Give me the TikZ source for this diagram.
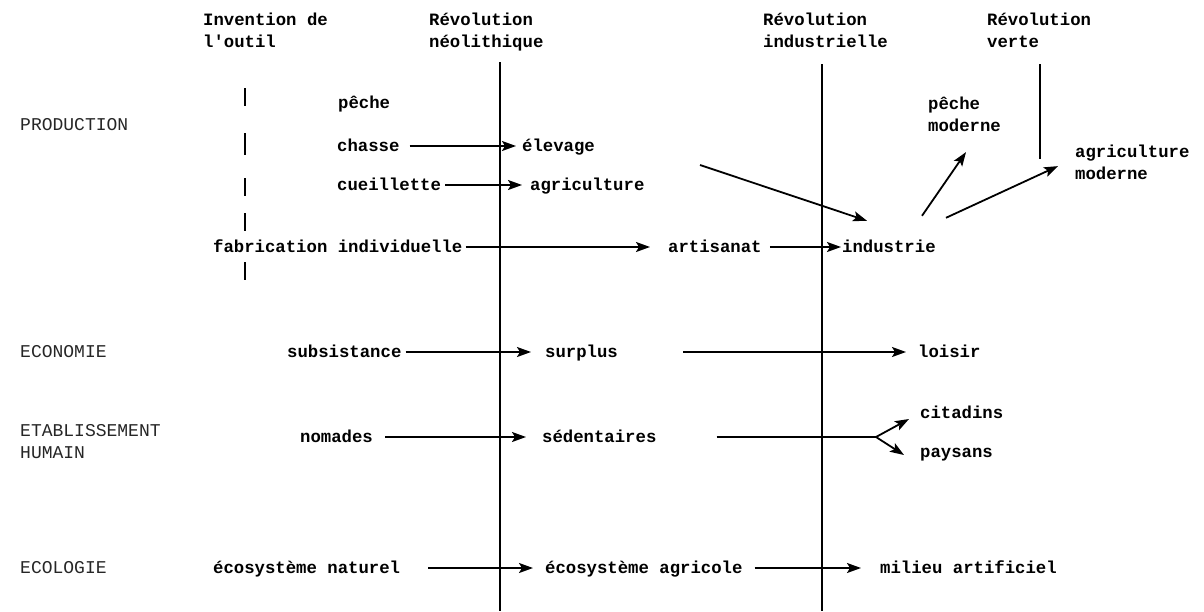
\documentclass[tikz,border=0pt]{standalone}
\usepackage{fontspec}
\setmonofont{Liberation Mono}
\usetikzlibrary{arrows.meta,calc}
\begin{document}
\begin{tikzpicture}[x=1pt,y=-1pt,
  lab/.style={font=\ttfamily\bfseries\fontsize{17.3}{22}\selectfont, anchor=base west, inner sep=0pt, text height=10pt, text depth=0pt},
  mlab/.style={font=\ttfamily\bfseries\fontsize{17.3}{22}\selectfont, anchor=north west, inner sep=0pt, align=left},
  head/.style={font=\ttfamily\bfseries\fontsize{17.3}{22}\selectfont, anchor=north west, inner sep=0pt, align=left},
  cat/.style={font=\ttfamily\fontsize{18}{22}\selectfont, text=black!85, anchor=base west, inner sep=0pt, align=left},
  arr/.style={line width=1.8pt, -{Stealth[length=14pt,width=10pt,inset=3pt]}},
  plain/.style={line width=1.8pt},
  era/.style={line width=1.2pt}]
\useasboundingbox (0,0) rectangle (1204,611);
% headers
\node[head] (hInv) at (203,13) {Invention de\\l'outil};
\node[head] (hNeo) at (429,13) {Révolution\\néolithique};
\node[head] (hInd) at (763,13) {Révolution\\industrielle};
\node[head] (hVer) at (987,13) {Révolution\\verte};
% era lines
\draw[era] (500,62) -- (500,611);
\draw[era] (822,64) -- (822,611);
\draw[era] (1040,64) -- (1040,159);
\foreach \a/\b in {88/106,133/155,178/196,213/231,262/280}
  \draw[era] (245,\a) -- (245,\b);
% categories
\node[cat] (cProd) at (20,130) {PRODUCTION};
\node[cat] (cEco) at (20,357) {ECONOMIE};
\node[cat, anchor=north west] (cEtab) at (20,424) {ETABLISSEMENT\\HUMAIN};
\node[cat] (cEcol) at (20,573) {ECOLOGIE};
% production
\node[lab] (peche) at (338,108) {pêche};
\node[lab] (chasse) at (337,151) {chasse};
\node[lab] (elevage) at (522,151) {élevage};
\node[lab] (cueil) at (337,190) {cueillette};
\node[lab] (agri) at (530,190) {agriculture};
\node[lab] (fabr) at (213,252) {fabrication individuelle};
\node[lab] (artis) at (668,252) {artisanat};
\node[lab] (indus) at (842,252) {industrie};
\node[mlab] (pmod) at (928,97) {pêche\\moderne};
\node[mlab] (amod) at (1075,145) {agriculture\\moderne};
\draw[arr] ($(chasse.east)+(10,0)$) -- ($(elevage.west)+(-6,0)$);
\draw[arr] ($(cueil.east)+(4,0)$) -- ($(agri.west)+(-8,0)$);
\draw[arr] ($(fabr.east)+(3,0)$) -- ($(artis.west)+(-18,0)$);
\draw[arr] ($(artis.east)+(8,0)$) -- ($(indus.west)+(-1,0)$);
\coordinate (dStart) at (700,165);
\draw[arr] (dStart) -- ($(indus.north west)+(25,-21)$);
\draw[arr] ($(indus.north west)+(80,-26)$) -- ($(pmod.south west)+(38,20)$);
\draw[arr] ($(indus.north west)+(104,-24)$) -- ($(amod.south west)+(-17,-14)$);
% economie
\node[lab] (subs) at (287,357) {subsistance};
\node[lab] (surp) at (545,357) {surplus};
\node[lab] (lois) at (918,357) {loisir};
\draw[arr] ($(subs.east)+(4,0)$) -- ($(surp.west)+(-14,0)$);
\draw[arr] ($(surp.east)+(65,0)$) -- ($(lois.west)+(-12,0)$);
% etablissement
\node[lab] (noma) at (300,442) {nomades};
\node[lab] (sede) at (542,442) {sédentaires};
\node[lab] (cita) at (920,418) {citadins};
\node[lab] (pays) at (920,457) {paysans};
\draw[arr] ($(noma.east)+(12,0)$) -- ($(sede.west)+(-16,0)$);
\coordinate (fork) at (876,437);
\draw[plain] ($(sede.east)+(60,0)$) -- (fork);
\draw[arr] (fork) -- ($(cita.west)+(-11,6)$);
\draw[arr] (fork) -- ($(pays.west)+(-16,3)$);
% ecologie
\node[lab] (ecoN) at (213,573) {écosystème naturel};
\node[lab] (ecoA) at (545,573) {écosystème agricole};
\node[lab] (mili) at (880,573) {milieu artificiel};
\draw[arr] ($(ecoN.east)+(28,0)$) -- ($(ecoA.west)+(-12,0)$);
\draw[arr] ($(ecoA.east)+(12,0)$) -- ($(mili.west)+(-19,0)$);
\end{tikzpicture}
\end{document}
